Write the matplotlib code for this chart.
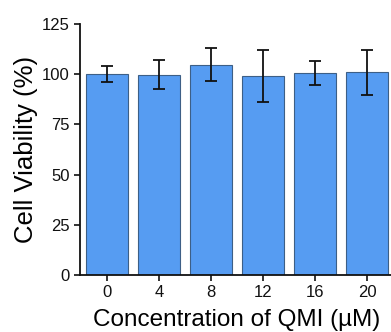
import matplotlib
matplotlib.use("Agg")
import matplotlib.pyplot as plt
import numpy as np

plt.rcParams['font.family'] = ['Liberation Sans', 'DejaVu Sans']

concentrations = ["0", "4", "8", "12", "16", "20"]
viability = [100.0, 99.7, 104.8, 99.0, 100.5, 101.0]
viability_sd = [4.0, 7.2, 8.3, 13.0, 6.0, 11.3]

fig = plt.figure(figsize=(3.91, 3.32), dpi=100)
ax = fig.add_axes([0.2046, 0.1717, 0.803, 0.756])

x = np.arange(len(concentrations))
ax.bar(x, viability, width=0.8, color="#569CF2", edgecolor="#3d5f86", linewidth=0.8, zorder=2)
ax.errorbar(x, viability, yerr=viability_sd, fmt="none", ecolor="#111111",
            elinewidth=1.3, capsize=4, capthick=1.3, zorder=3)

ax.set_xlim(-0.52, 5.52)
ax.set_ylim(0, 125)
ax.set_yticks([0, 25, 50, 75, 100, 125])
ax.set_xticks(x)
ax.set_xticklabels(concentrations)

for side in ("top", "right"):
    ax.spines[side].set_visible(False)
for side in ("left", "bottom"):
    ax.spines[side].set_linewidth(1.3)
    ax.spines[side].set_color("#111111")

ax.tick_params(axis="both", direction="out", length=4, width=1.2, labelsize=12,
               colors="#111111", pad=3.5)

ax.set_xlabel("Concentration of QMI (µM)", fontsize=17.5, labelpad=6)
ax.set_ylabel("Cell Viability (%)", fontsize=18.5, labelpad=3)

fig.savefig("out.png", dpi=100)
